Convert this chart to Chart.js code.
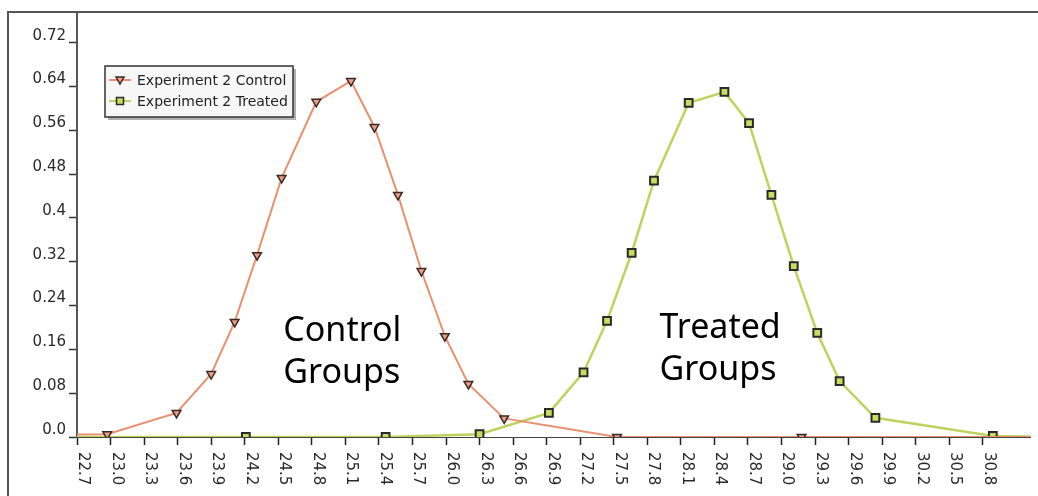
<!DOCTYPE html>
<html>
<head>
<meta charset="utf-8">
<script src="https://cdn.jsdelivr.net/npm/chart.js@4.4.1/dist/chart.umd.min.js"></script>
<style>
  html, body { margin: 0; padding: 0; background: #fff; }
  #wrap { width: 1038px; height: 496px; }
</style>
</head>
<body>
<div id="wrap"><canvas id="myChart" width="1038" height="496"></canvas></div>
<script>
// values (first/last points sit outside the axis range, so only the line shows)
const controlX = [22.5, 22.97, 23.59, 23.90, 24.11, 24.31, 24.53, 24.84, 25.15, 25.36, 25.57, 25.78, 25.99, 26.20, 26.52, 27.53, 29.18, 31.5];
const controlY = [0.004, 0.005, 0.044, 0.115, 0.210, 0.332, 0.473, 0.612, 0.650, 0.566, 0.442, 0.303, 0.184, 0.097, 0.034, 0.0, 0.0, 0.0];

const treatedX = [22.5, 24.21, 25.46, 26.30, 26.92, 27.23, 27.44, 27.66, 27.86, 28.17, 28.49, 28.71, 28.91, 29.11, 29.32, 29.52, 29.84, 30.89, 31.5];
const treatedY = [0.0, 0.0, 0.0, 0.005, 0.044, 0.118, 0.212, 0.336, 0.468, 0.610, 0.630, 0.573, 0.442, 0.312, 0.190, 0.102, 0.035, 0.002, 0.0];

const seriesNames = ['Experiment 2 Control', 'Experiment 2 Treated'];

const xTickLabels = ['22.7','23.0','23.3','23.6','23.9','24.2','24.5','24.8','25.1','25.4','25.7','26.0','26.3','26.6',
                     '26.9','27.2','27.5','27.8','28.1','28.4','28.7','29.0','29.3','29.6','29.9','30.2','30.5','30.8'];
const yTickLabels = ['0.0','0.08','0.16','0.24','0.32','0.4','0.48','0.56','0.64','0.72'];

// text written over the curves: [line1, line2, x value, y value]
const notes = [
    ['Control', 'Groups', 24.545, 0.175],
    ['Treated', 'Groups', 27.91, 0.181]
];

const axisFont = '15px "DejaVu Sans"';

function toPoints(xs, ys){
    return xs.map((x, i) => ({x: x, y: ys[i]}));
}

// frame, rotated x labels, legend box and the notes
const decorations = {
    id: 'decorations',
    afterDraw(chart){
        const c = chart.ctx;
        const area = chart.chartArea;
        const xs = chart.scales.x;

        // outer frame (left + top)
        c.save();
        c.strokeStyle = '#555';
        c.lineWidth = 2;
        c.beginPath();
        c.moveTo(8, 496);
        c.lineTo(8, 12);
        c.lineTo(1038, 12);
        c.stroke();
        c.restore();

        // x tick labels, turned clockwise
        c.save();
        c.font = axisFont;
        c.fillStyle = '#2a2a2a';
        c.textAlign = 'left';
        c.textBaseline = 'alphabetic';
        xTickLabels.forEach((lab) => {
            const px = xs.getPixelForValue(parseFloat(lab));
            c.save();
            c.translate(px + 2, area.bottom + 15);
            c.rotate(Math.PI / 2);
            c.fillText(lab, 0, 0);
            c.restore();
        });
        c.restore();

        // legend
        const lx = area.left + 28, ly = area.top + 54, lw = 188, lh = 51;
        c.save();
        c.fillStyle = '#b0b0b0';
        c.fillRect(lx + 3, ly + 3, lw, lh);
        c.fillStyle = '#f7f7f7';
        c.fillRect(lx, ly, lw, lh);
        c.strokeStyle = '#333';
        c.lineWidth = 1.5;
        c.strokeRect(lx, ly, lw, lh);
        chart.data.datasets.forEach((ds, i) => {
            const ry = ly + 14 + i * 21;
            c.strokeStyle = ds.borderColor;
            c.lineWidth = 2;
            c.beginPath();
            c.moveTo(lx + 4, ry);
            c.lineTo(lx + 26, ry);
            c.stroke();
            const mx = lx + 15;
            c.fillStyle = ds.pointBackgroundColor;
            c.strokeStyle = ds.pointBorderColor;
            c.lineWidth = 1.5;
            c.beginPath();
            if (ds.pointStyle === 'triangle') {
                c.moveTo(mx - 4, ry - 3);
                c.lineTo(mx + 4, ry - 3);
                c.lineTo(mx, ry + 4);
                c.closePath();
            } else {
                c.rect(mx - 3.5, ry - 3.5, 7, 7);
            }
            c.fill();
            c.stroke();
            c.fillStyle = '#222';
            c.font = '14px "DejaVu Sans"';
            c.textBaseline = 'middle';
            c.textAlign = 'left';
            c.fillText(ds.label, lx + 32, ry + 1);
        });
        c.restore();

        // notes
        c.save();
        c.fillStyle = '#000';
        c.font = '34px "Noto Sans"';
        c.textAlign = 'left';
        c.textBaseline = 'alphabetic';
        notes.forEach((n) => {
            const px = xs.getPixelForValue(n[2]);
            const py = chart.scales.y.getPixelForValue(n[3]);
            c.fillText(n[0], px, py);
            c.fillText(n[1], px, py + 42);
        });
        c.restore();
    }
};

const ctx = document.getElementById('myChart').getContext('2d');
const myChart = new Chart(ctx, {
    type: 'line',
    data: {
        datasets: [{
            label: seriesNames[0],
            data: toPoints(controlX, controlY),
            borderColor: '#e8906f',
            borderWidth: 2,
            pointStyle: 'triangle',
            pointRotation: 180,
            pointRadius: 5,
            pointBackgroundColor: '#ec9f88',
            pointBorderColor: '#3a2a25',
            pointBorderWidth: 1.5,
            tension: 0
        }, {
            label: seriesNames[1],
            data: toPoints(treatedX, treatedY),
            borderColor: '#bcd45e',
            borderWidth: 2.5,
            pointStyle: 'rect',
            pointRadius: 5.5,
            pointBackgroundColor: '#c9dc5c',
            pointBorderColor: '#2a2a2a',
            pointBorderWidth: 2,
            tension: 0
        }]
    },
    options: {
        responsive: false,
        animation: false,
        layout: { padding: { top: 12, left: 0, right: 0, bottom: 0 } },
        plugins: {
            legend: { display: false },
            tooltip: { enabled: false }
        },
        scales: {
            x: {
                type: 'linear',
                min: 22.7,
                max: 31.227,
                afterBuildTicks: (scale) => {
                    scale.ticks = xTickLabels.map(s => ({value: parseFloat(s)}));
                },
                afterFit: (scale) => { scale.height = 59; },
                grid: { display: true, drawOnChartArea: false, drawTicks: true, tickLength: 8, tickColor: '#222', tickWidth: 1.5 },
                border: { display: true, color: '#444', width: 1 },
                ticks: {
                    color: 'rgba(0,0,0,0)',
                    minRotation: 90,
                    maxRotation: 90,
                    font: { family: 'DejaVu Sans', size: 15 },
                    callback: (v, i) => xTickLabels[i]
                }
            },
            y: {
                min: 0,
                max: 0.776,
                afterBuildTicks: (scale) => {
                    scale.ticks = yTickLabels.map(s => ({value: parseFloat(s)}));
                },
                afterFit: (scale) => { scale.width = 77; },
                grid: { display: true, drawOnChartArea: false, drawTicks: true, tickLength: 8, tickColor: '#333', tickWidth: 1.5 },
                border: { display: true, color: '#555', width: 2 },
                ticks: {
                    color: '#2a2a2a',
                    padding: 3,
                    labelOffset: -7,
                    font: { family: 'DejaVu Sans', size: 15 },
                    callback: (v, i) => yTickLabels[i]
                }
            }
        }
    },
    plugins: [decorations]
});
</script>
</body>
</html>
